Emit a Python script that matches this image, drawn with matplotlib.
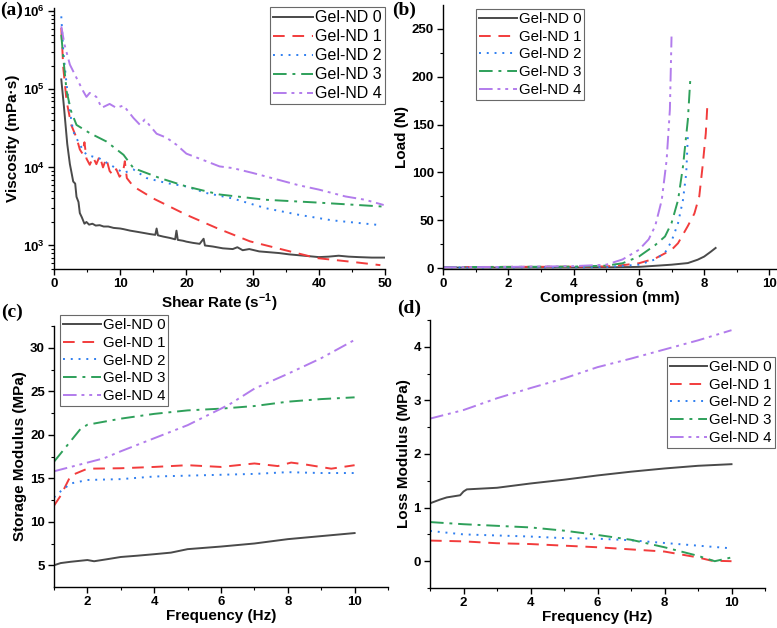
import matplotlib
matplotlib.use("Agg")
from matplotlib import pyplot as plt

plt.rcParams["font.family"] = ["Liberation Sans", "DejaVu Sans"]
plt.rcParams["mathtext.fontset"] = "custom"
plt.rcParams["mathtext.rm"] = "Liberation Sans:bold"
plt.rcParams["mathtext.bf"] = "Liberation Sans:bold"

labels = ["Gel-ND 0", "Gel-ND 1", "Gel-ND 2", "Gel-ND 3", "Gel-ND 4"]
colors = ["#4a4a4a", "#f23c3c", "#2f7ff0", "#2ea05a", "#b27cec"]
styles = ["-", (0, (6, 4)), (0, (1, 3)), (0, (7, 3, 1.5, 3)), (0, (7, 2.5, 1.5, 2.5, 1.5, 2.5))]

# (a) viscosity vs shear rate
a_x0 = [1.1, 1.5, 2.0, 2.4, 2.6, 2.9, 3.2, 3.4, 3.7, 3.9, 4.2, 4.6, 4.9, 5.3, 5.8, 6.3, 6.9, 7.5,
        8.2, 9.0, 10.0, 10.5, 11.5, 12.5, 13.5, 14.5, 15.3, 15.5, 15.7, 16.5, 17.5, 18.3, 18.5, 18.7,
        19.5, 20.0, 21.0, 22.0, 22.6, 22.8, 24.0, 25.5, 27.0, 27.7, 28.5, 29.5, 31.0, 32.5, 34.0,
        35.5, 37.0, 38.5, 40.0, 41.5, 43.0, 44.5, 46.0, 48.0, 50.0]
a_y0 = [1.34e5, 6.0e4, 2.0e4, 1.1e4, 9.0e3, 6.6e3, 6.2e3, 4.2e3, 3.6e3, 2.6e3, 2.3e3, 1.9e3, 2.0e3,
        1.85e3, 1.9e3, 1.8e3, 1.82e3, 1.75e3, 1.75e3, 1.68e3, 1.65e3, 1.62e3, 1.55e3, 1.5e3, 1.45e3,
        1.4e3, 1.37e3, 1.65e3, 1.35e3, 1.3e3, 1.25e3, 1.2e3, 1.55e3, 1.18e3, 1.15e3, 1.12e3, 1.08e3,
        1.05e3, 1.22e3, 1.0e3, 0.97e3, 0.92e3, 0.9e3, 0.95e3, 0.87e3, 0.9e3, 0.84e3, 0.82e3, 0.8e3,
        0.77e3, 0.75e3, 0.73e3, 0.71e3, 0.72e3, 0.74e3, 0.72e3, 0.71e3, 0.7e3, 0.7e3]
a_x1 = [1.1, 1.4, 1.9, 2.6, 3.4, 3.9, 4.3, 4.6, 4.9, 5.4, 5.9, 6.4, 6.9, 7.4, 7.9, 8.4, 8.9, 9.4,
        9.9, 10.4, 10.7, 11.0, 12.0, 15.0, 20.0, 24.6, 29.6, 34.7, 39.7, 44.8, 49.3]
a_y1 = [6.1e5, 1.9e5, 7.1e4, 3.5e4, 2.4e4, 1.7e4, 1.5e4, 2.1e4, 1.3e4, 1.08e4, 1.35e4, 1.1e4, 1.4e4,
        1.0e4, 1.3e4, 9.0e3, 8.0e3, 9.5e3, 7.6e3, 8.5e3, 1.2e4, 7.3e3, 5.7e3, 4.0e3, 2.47e3, 1.67e3,
        1.13e3, 8.8e2, 6.9e2, 6.2e2, 5.6e2]
a_x2 = [1.1, 1.4, 1.9, 2.4, 2.9, 3.9, 4.9, 6.9, 8.9, 10.5, 12.0, 14.0, 17.0, 20.0, 23.0, 27.0, 32.0,
        37.0, 42.0, 48.8]
a_y2 = [8.6e5, 3.1e5, 1.16e5, 5.2e4, 2.9e4, 1.94e4, 1.45e4, 1.3e4, 1.03e4, 8.5e3, 9.4e3, 7.3e3,
        6.3e3, 5.7e3, 4.7e3, 4.0e3, 3.0e3, 2.47e3, 2.1e3, 1.84e3]
a_x3 = [1.1, 1.4, 1.9, 2.6, 3.4, 5.4, 7.9, 10.5, 12.0, 16.0, 20.0, 25.0, 32.0, 39.7, 49.8]
a_y3 = [5.0e5, 2.55e5, 9.5e4, 5.2e4, 3.5e4, 2.75e4, 2.15e4, 1.45e4, 9.8e3, 7.3e3, 5.7e3, 4.5e3,
        3.85e3, 3.55e3, 3.15e3]
a_x4 = [1.1, 1.6, 2.4, 3.4, 4.4, 4.9, 5.4, 6.4, 7.2, 8.4, 9.4, 10.5, 12.0, 13.0, 13.7, 15.5, 17.0,
        18.5, 20.0, 23.0, 25.0, 27.0, 30.0, 34.0, 37.0, 40.0, 44.0, 47.0, 49.8]
a_y4 = [6.4e5, 3.7e5, 2.07e5, 1.4e5, 9.5e4, 8.0e4, 9.0e4, 8.0e4, 5.8e4, 6.5e4, 5.8e4, 6.2e4, 4.3e4,
        3.5e4, 4.1e4, 2.7e4, 2.4e4, 1.95e4, 1.5e4, 1.2e4, 1.03e4, 9.8e3, 8.5e3, 6.9e3, 5.9e3,
        5.2e3, 4.25e3, 3.85e3, 3.3e3]

# (b) load vs compression
b_x0 = [0, 2, 4, 5, 6, 7, 7.5, 7.8, 8.0, 8.2, 8.35]
b_y0 = [0.5, 0.5, 0.6, 0.7, 1.2, 3.5, 5.2, 8.7, 12, 17, 21]
b_x1 = [0, 2, 4, 5, 5.5, 6, 6.5, 7, 7.2, 7.5, 7.7, 7.85, 7.95, 8.05, 8.1]
b_y1 = [1, 1.2, 1.4, 1.7, 3, 5, 10, 19, 26, 44, 57, 75, 106, 141, 172]
b_x2 = [0, 2, 4, 5, 6, 6.5, 6.8, 7.0, 7.2, 7.35, 7.45, 7.5]
b_y2 = [0.5, 0.6, 0.8, 1.0, 3.5, 9, 16, 28, 47, 71, 99, 138]
b_x3 = [0, 2, 4, 5, 5.5, 6, 6.5, 6.8, 7.0, 7.2, 7.35, 7.5, 7.58]
b_y3 = [1, 1.2, 1.5, 2.5, 5, 12, 24, 33, 47, 71, 106, 155, 200]
b_x4 = [0, 2, 4, 5, 5.5, 6, 6.3, 6.5, 6.7, 6.85, 6.95, 7.0]
b_y4 = [0.8, 1.2, 2, 3.5, 9, 19, 30, 44, 71, 113, 166, 242]

# (c) storage modulus vs frequency
c_x0 = [1, 1.2, 1.5, 2, 2.2, 2.6, 3, 3.5, 4, 4.5, 5, 6, 7, 8, 9, 10]
c_y0 = [5.0, 5.25, 5.4, 5.6, 5.46, 5.7, 5.95, 6.1, 6.27, 6.45, 6.85, 7.15, 7.5, 8.0, 8.35, 8.7]
c_x1 = [1, 1.2, 1.5, 2, 3, 4, 5, 6, 7, 7.7, 8.1, 8.5, 9.3, 10]
c_y1 = [11.85, 13.0, 15.3, 16.1, 16.15, 16.3, 16.5, 16.3, 16.7, 16.4, 16.8, 16.6, 16.1, 16.5]
c_x2 = [1, 1.2, 1.5, 2, 3, 4, 5, 6, 7, 8, 9, 10]
c_y2 = [12.8, 13.5, 14.4, 14.8, 14.9, 15.2, 15.3, 15.4, 15.5, 15.7, 15.6, 15.6]
c_x3 = [1, 1.4, 1.8, 2, 2.5, 3, 4, 5, 6, 7, 8, 9, 10]
c_y3 = [16.9, 18.8, 20.7, 21.15, 21.5, 21.85, 22.4, 22.8, 23.0, 23.3, 23.8, 24.1, 24.3]
c_x4 = [1, 1.5, 2, 2.5, 3, 4, 5, 6, 6.3, 7, 8, 9, 10]
c_y4 = [15.8, 16.3, 16.8, 17.3, 18.1, 19.6, 21.1, 23.0, 23.6, 25.3, 27.0, 28.8, 30.9]

# (d) loss modulus vs frequency
d_x0 = [1, 1.3, 1.5, 1.9, 2.0, 2.1, 3, 4, 5, 6, 7, 8, 9, 10]
d_y0 = [1.08, 1.15, 1.19, 1.23, 1.3, 1.34, 1.37, 1.45, 1.52, 1.6, 1.67, 1.73, 1.78, 1.81]
d_x1 = [1, 2, 3, 4, 5, 6, 7, 8, 9, 9.4, 10]
d_y1 = [0.385, 0.37, 0.335, 0.32, 0.29, 0.26, 0.22, 0.18, 0.07, 0.01, 0.0]
d_x2 = [1, 2, 3, 4, 5, 6, 7, 8, 9, 10]
d_y2 = [0.565, 0.5, 0.48, 0.46, 0.43, 0.42, 0.39, 0.34, 0.29, 0.24]
d_x3 = [1, 2, 3, 4, 5, 6, 7, 8, 9, 9.5, 10]
d_y3 = [0.73, 0.69, 0.66, 0.63, 0.57, 0.49, 0.4, 0.26, 0.1, 0.0, 0.07]
d_x4 = [1, 2, 3, 4, 5, 6, 7, 8, 9, 10]
d_y4 = [2.66, 2.82, 3.04, 3.23, 3.41, 3.62, 3.78, 3.95, 4.12, 4.31]

fig = plt.figure(figsize=(7.77, 6.28), dpi=100)
W, H = 777, 628

def box(l, t, r, b):
    return [l / W, 1 - b / H, (r - l) / W, (b - t) / H]

ax_a = fig.add_axes(box(54, 8, 385, 269))
ax_b = fig.add_axes(box(443, 5, 776, 269))
ax_c = fig.add_axes(box(54, 326, 388, 587))
ax_d = fig.add_axes(box(430, 320, 765, 588))

def style_ax(ax):
    for s in ["top", "right"]:
        ax.spines[s].set_visible(False)
    for s in ["left", "bottom"]:
        ax.spines[s].set_linewidth(1.0)
    ax.tick_params(which="major", direction="out", length=4, width=1, labelsize=9.5, pad=2.5)
    ax.tick_params(which="minor", direction="out", length=2, width=0.8)
    for t in ax.get_xticklabels() + ax.get_yticklabels():
        t.set_fontweight("bold")

def draw(ax, xs, ys):
    for x, y, c, ls, lab in zip(xs, ys, colors, styles, labels):
        ax.plot(x, y, color=c, linestyle=ls, linewidth=1.4, label=lab)

draw(ax_a, [a_x0, a_x1, a_x2, a_x3, a_x4], [a_y0, a_y1, a_y2, a_y3, a_y4])
ax_a.set_yscale("log")
ax_a.set_xlim(0, 50)
ax_a.set_ylim(500, 1.1e6)
ax_a.set_xticks([0, 10, 20, 30, 40, 50])
ax_a.set_xticks([5, 15, 25, 35, 45], minor=True)
ax_a.set_yticks([1e3, 1e4, 1e5, 1e6])
ax_a.set_yticklabels(["$10^{3}$", "$10^{4}$", "$10^{5}$", "$10^{6}$"])
ax_a.set_xlabel("Shear Rate (s$^{-1}$)", fontsize=11, fontweight="bold", labelpad=1)
ax_a.set_ylabel("Viscosity (mPa·s)", fontsize=11, fontweight="bold", labelpad=2)

draw(ax_b, [b_x0, b_x1, b_x2, b_x3, b_x4], [b_y0, b_y1, b_y2, b_y3, b_y4])
ax_b.set_xlim(0, 10.2)
ax_b.set_ylim(-1, 275)
ax_b.set_xticks([0, 2, 4, 6, 8, 10])
ax_b.set_xticks([1, 3, 5, 7, 9], minor=True)
ax_b.set_yticks([0, 50, 100, 150, 200, 250])
ax_b.set_yticks([25, 75, 125, 175, 225], minor=True)
ax_b.set_xlabel("Compression (mm)", fontsize=11, fontweight="bold", labelpad=1)
ax_b.set_ylabel("Load (N)", fontsize=11, fontweight="bold", labelpad=2)

draw(ax_c, [c_x0, c_x1, c_x2, c_x3, c_x4], [c_y0, c_y1, c_y2, c_y3, c_y4])
ax_c.set_xlim(1, 11)
ax_c.set_ylim(2.5, 32.5)
ax_c.set_xticks([2, 4, 6, 8, 10])
ax_c.set_xticks([1, 3, 5, 7, 9, 11], minor=True)
ax_c.set_yticks([5, 10, 15, 20, 25, 30])
ax_c.set_yticks([7.5, 12.5, 17.5, 22.5, 27.5, 32.5], minor=True)
ax_c.set_xlabel("Frequency (Hz)", fontsize=11, fontweight="bold", labelpad=1)
ax_c.set_ylabel("Storage Modulus (MPa)", fontsize=11, fontweight="bold", labelpad=2)

draw(ax_d, [d_x0, d_x1, d_x2, d_x3, d_x4], [d_y0, d_y1, d_y2, d_y3, d_y4])
ax_d.set_xlim(1, 11)
ax_d.set_ylim(-0.5, 4.5)
ax_d.set_xticks([2, 4, 6, 8, 10])
ax_d.set_xticks([1, 3, 5, 7, 9, 11], minor=True)
ax_d.set_yticks([0, 1, 2, 3, 4])
ax_d.set_yticks([-0.5, 0.5, 1.5, 2.5, 3.5, 4.5], minor=True)
ax_d.set_xlabel("Frequency (Hz)", fontsize=11, fontweight="bold", labelpad=1)
ax_d.set_ylabel("Loss Modulus (MPa)", fontsize=11, fontweight="bold", labelpad=2)

for ax in [ax_a, ax_b, ax_c, ax_d]:
    style_ax(ax)

for ax, loc, anchor, fs in [(ax_a, "upper right", (385 / W, 1 - 7 / H), 11.5),
                            (ax_b, "upper left", (476 / W, 1 - 9 / H), 10.8),
                            (ax_c, "upper left", (60 / W, 1 - 315 / H), 10.8),
                            (ax_d, "upper right", (775 / W, 1 - 357 / H), 10.8)]:
    leg = ax.legend(loc=loc, bbox_to_anchor=anchor, bbox_transform=fig.transFigure,
                    fontsize=fs, frameon=True, fancybox=False, handlelength=2.5,
                    handletextpad=0.15, borderpad=0.2, labelspacing=0.25, borderaxespad=0)
    leg.get_frame().set_edgecolor("#444444")
    leg.get_frame().set_linewidth(0.8)

for txt, x, y in [("(a)", 0, 2), ("(b)", 392, 2), ("(c)", 1, 304), ("(d)", 397, 300)]:
    fig.text(x / W, 1 - y / H, txt, fontsize=14, fontweight="bold",
             family="Liberation Serif", va="top", ha="left")

fig.savefig("out.png", dpi=100)
